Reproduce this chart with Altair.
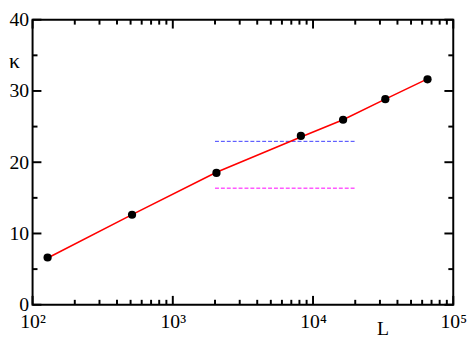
import altair as alt
import pandas as pd

# data
L_vals = [128, 512, 2048, 8192, 16384, 32768, 65536]
kappa_pts = [6.63, 12.63, 18.49, 23.69, 25.96, 28.84, 31.64]
kappa_line = [6.55, 12.65, 18.6, 23.55, 25.95, 28.85, 31.7]
dash_x = [2000, 20000]
blue_y = [22.93, 22.93]
magenta_y = [16.36, 16.36]

major_x = [100, 1000, 10000, 100000]
minor_x = [m * d for d in [100, 1000, 10000] for m in range(2, 10)]
major_y = [0, 10, 20, 30, 40]
minor_y = [5, 15, 25, 35]
x_labels = ["10²", "10³", "10⁴", "10⁵"]

W, H = 428, 290
MAJ, MIN = 9, 5

pts = pd.DataFrame({"L": L_vals, "k": kappa_pts})
line = pd.DataFrame({"L": L_vals, "k": kappa_line})
blue = pd.DataFrame({"L": dash_x, "k": blue_y})
mag = pd.DataFrame({"L": dash_x, "k": magenta_y})
xmaj = pd.DataFrame({"L": major_x})
xmin = pd.DataFrame({"L": minor_x})
ymaj = pd.DataFrame({"k": major_y})
ymin = pd.DataFrame({"k": minor_y})

FONT = "Liberation Serif"
xs = alt.Scale(type="log", domain=[100, 100000])
ys = alt.Scale(domain=[0, 40])

label_expr = ("datum.value == 100 ? '%s' : datum.value == 1000 ? '%s' : "
              "datum.value == 10000 ? '%s' : '%s'") % tuple(x_labels)

common = dict(domain=False, grid=False, ticks=False,
              labelFont=FONT, labelColor="black", titleFont=FONT,
              titleColor="black", titleFontWeight="normal")

ax_x = alt.Axis(orient="bottom", values=major_x, labelExpr=label_expr,
                labelFontSize=20, labelPadding=7, labelBaseline="top",
                labelFlush=False, labelOverlap=False,
                title="L", titleFontSize=20, titleX=356, titleY=24,
                titleAlign="center", titleBaseline="middle", titleAngle=0,
                **common)
ax_y = alt.Axis(orient="left", values=major_y, labelFontSize=20,
                labelPadding=4, labelFlush=False, labelOverlap=False,
                title="κ", titleFontSize=22, titleAngle=0, titleX=-19,
                titleY=42, titleAlign="center", titleBaseline="middle",
                **common)

X = alt.X("L:Q", scale=xs, axis=ax_x, title="L")
Y = alt.Y("k:Q", scale=ys, axis=ax_y, title="κ")


def xticks(df, length, top):
    y0, y1 = (0, length) if top else (H, H - length)
    return alt.Chart(df).mark_rule(stroke="#000000", strokeWidth=2).encode(
        x=X, y=alt.value(y0), y2=alt.value(y1))


def yticks(df, length, right):
    x0, x1 = (W, W - length) if right else (0, length)
    return alt.Chart(df).mark_rule(stroke="#000000", strokeWidth=2).encode(
        y=Y, x=alt.value(x0), x2=alt.value(x1))


tick_layers = [
    xticks(xmaj, MAJ, False), xticks(xmin, MIN, False),
    xticks(xmaj, MAJ, True), xticks(xmin, MIN, True),
    yticks(ymaj, MAJ, False), yticks(ymin, MIN, False),
    yticks(ymaj, MAJ, True), yticks(ymin, MIN, True),
]

blue_layer = alt.Chart(blue).mark_line(color="#3c3cff", strokeWidth=1,
                                       strokeDash=[4, 2]).encode(x=X, y=Y)
mag_layer = alt.Chart(mag).mark_line(color="#ff00ff", strokeWidth=1,
                                     strokeDash=[4, 2]).encode(x=X, y=Y)
line_layer = alt.Chart(line).mark_line(color="#ff0000",
                                       strokeWidth=1.6).encode(x=X, y=Y)
pt_layer = alt.Chart(pts).mark_point(filled=True, color="black", size=70,
                                     opacity=1, shape="circle").encode(x=X, y=Y)

chart = alt.layer(blue_layer, mag_layer, line_layer, pt_layer,
                  *tick_layers).properties(
    width=W, height=H,
    autosize=alt.AutoSizeParams(type="none"),
    padding={"left": 25, "top": 9, "right": 15, "bottom": 35},
    background="white",
).configure_view(stroke="black", strokeWidth=2)

chart.save("out.html", embed_options={"renderer": "svg", "actions": False})
